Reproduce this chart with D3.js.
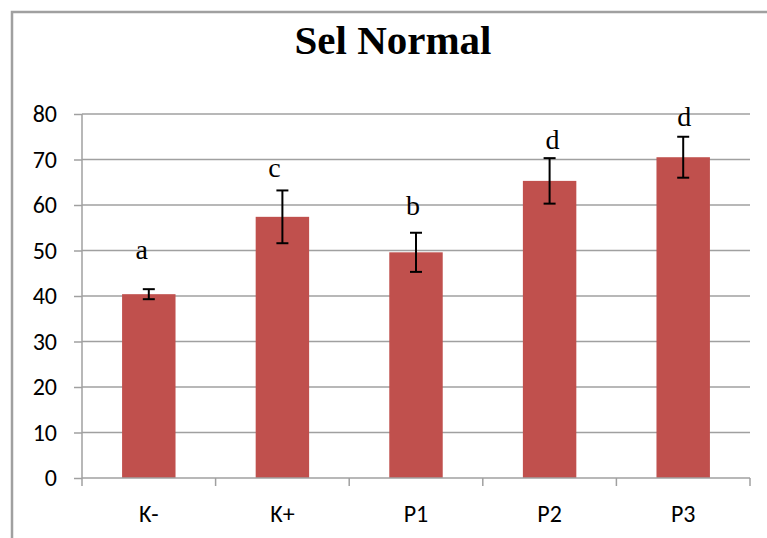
<!DOCTYPE html>
<html>
<head>
<meta charset="utf-8">
<script src="https://cdn.jsdelivr.net/npm/d3@7"></script>
<style>
  html, body { margin: 0; padding: 0; background: #fff; }
  svg { display: block; }
</style>
</head>
<body>
<svg id="chart" width="767" height="538"></svg>
<script>
const categories = ["K-", "K+", "P1", "P2", "P3"];
const values = [40.4, 57.4, 49.6, 65.3, 70.5];
const errors = [1.1, 5.8, 4.3, 5.0, 4.5];
const groupLetters = ["a", "c", "b", "d", "d"];
const letterY = [48.1, 66.2, 57.9, 72.3, 77.4];
const letterDx = [-7, -8, -3, 3, 1];
const yTicks = [0, 10, 20, 30, 40, 50, 60, 70, 80];
const title = "Sel Normal";

const svg = d3.select("#chart");
const m = { left: 82, right: 750, top: 114, bottom: 478 };

// outer frame (top and left edges visible)
svg.append("path").attr("d", "M12,538V12H767")
  .attr("fill", "none").attr("stroke", "#a0a0a0").attr("stroke-width", 2.5);

const x = d3.scaleBand().domain(categories).range([m.left, m.right]).paddingInner(0.6).paddingOuter(0.3);
const xOuter = d3.scaleBand().domain(categories).range([m.left, m.right]);
const y = d3.scaleLinear().domain([0, 80]).range([m.bottom, m.top]);

// title
svg.append("text").attr("x", 393).attr("y", 54).attr("text-anchor", "middle")
  .attr("font-family", "'Liberation Serif', 'Times New Roman', serif")
  .attr("font-weight", "bold").attr("font-size", 41).attr("fill", "#000").text(title);

// gridlines
svg.append("g").selectAll("line").data(yTicks.filter(d => d > 0)).join("line")
  .attr("x1", m.left).attr("x2", m.right)
  .attr("y1", d => y(d)).attr("y2", d => y(d))
  .attr("stroke", "#a0a0a0").attr("stroke-width", 1.5);

// y axis
const yAxis = svg.append("g").attr("transform", `translate(${m.left},0)`)
  .call(d3.axisLeft(y).tickValues(yTicks).tickSize(8).tickPadding(17));
yAxis.select(".domain").attr("stroke", "#a0a0a0").attr("stroke-width", 1.5).attr("d", `M0,${m.top}V${m.bottom}`);
yAxis.selectAll(".tick line").attr("stroke", "#a0a0a0").attr("stroke-width", 1.5);
yAxis.selectAll(".tick text").attr("font-family", "Carlito, Lato, 'Open Sans', sans-serif")
  .attr("font-size", 24).attr("fill", "#000");

// bars
svg.append("g").selectAll("rect").data(categories).join("rect")
  .attr("x", (d) => x(d)).attr("width", x.bandwidth())
  .attr("y", (d, i) => y(values[i])).attr("height", (d, i) => y(0) - y(values[i]))
  .attr("fill", "#C0504D");

// x axis
const xAxisG = svg.append("g").attr("transform", `translate(0,${m.bottom})`);
xAxisG.append("line").attr("x1", m.left).attr("x2", m.right).attr("y1", 0).attr("y2", 0)
  .attr("stroke", "#a0a0a0").attr("stroke-width", 1.5);
const bounds = categories.map(c => xOuter(c)).concat([m.right]);
xAxisG.selectAll("line.tk").data(bounds).join("line").attr("class", "tk")
  .attr("x1", d => d).attr("x2", d => d).attr("y1", 0).attr("y2", 8)
  .attr("stroke", "#a0a0a0").attr("stroke-width", 1.5);
xAxisG.selectAll("text").data(categories).join("text")
  .attr("x", d => xOuter(d) + xOuter.bandwidth() / 2).attr("y", 44)
  .attr("text-anchor", "middle")
  .attr("font-family", "Carlito, Lato, 'Open Sans', sans-serif")
  .attr("font-size", 24).attr("fill", "#000").text(d => d);

// error bars
const eg = svg.append("g").attr("stroke", "#000").attr("stroke-width", 2);
categories.forEach((c, i) => {
  const cx = x(c) + x.bandwidth() / 2;
  const top = y(values[i] + errors[i]), bot = y(values[i] - errors[i]);
  eg.append("line").attr("x1", cx).attr("x2", cx).attr("y1", top).attr("y2", bot);
  eg.append("line").attr("x1", cx - 6).attr("x2", cx + 6).attr("y1", top).attr("y2", top);
  eg.append("line").attr("x1", cx - 6).attr("x2", cx + 6).attr("y1", bot).attr("y2", bot);
});

// significance letters
svg.append("g").selectAll("text").data(categories).join("text")
  .attr("x", (d, i) => x(d) + x.bandwidth() / 2 + letterDx[i])
  .attr("y", (d, i) => y(letterY[i]))
  .attr("text-anchor", "middle")
  .attr("font-family", "'Liberation Serif', 'Times New Roman', serif")
  .attr("font-size", 28).attr("fill", "#000")
  .text((d, i) => groupLetters[i]);
</script>
</body>
</html>
